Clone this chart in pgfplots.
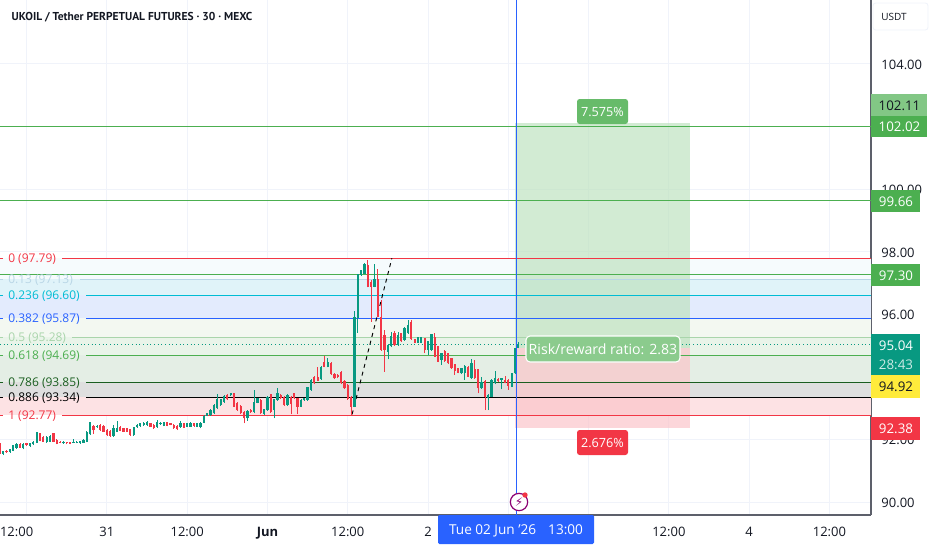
\documentclass[border=0pt]{standalone}
\usepackage{fontspec}
\usepackage{pgfplots}
\usepackage{pgfplotstable}
\pgfplotsset{compat=1.18}
\setmainfont{Open Sans}
\newfontfamily\dv{DejaVu Sans}
\newfontfamily\ttl{PT Sans}
\definecolor{upc}{HTML}{089981}
\definecolor{dnc}{HTML}{F23645}
\definecolor{gridc}{HTML}{F0F3FA}
\definecolor{frame}{HTML}{5D606B}
\definecolor{lvlA}{HTML}{F23645}
\definecolor{lvlB}{HTML}{B9D6E6}
\definecolor{lvlC}{HTML}{00BCD4}
\definecolor{lvlD}{HTML}{2962FF}
\definecolor{lvlE}{HTML}{A9D5AB}
\definecolor{lvlF}{HTML}{4CAF50}
\definecolor{lvlG}{HTML}{1B5E20}
\definecolor{lvlH}{HTML}{000000}
\definecolor{ogreen}{HTML}{4CAF50}
\definecolor{bluetag}{HTML}{2962FF}
\definecolor{ytag}{HTML}{FFEB3B}
\definecolor{ink}{HTML}{131722}
\definecolor{bandA}{HTML}{F6FBFD}
\definecolor{bandB}{HTML}{E0F3F9}
\definecolor{bandC}{HTML}{E3EBFD}
\definecolor{bandD}{HTML}{F3F8F1}
\definecolor{bandE}{HTML}{E9F4E9}
\definecolor{bandF}{HTML}{E4EEE5}
\definecolor{bandG}{HTML}{DFDFDF}
\definecolor{bandH}{HTML}{FDE2E4}
\pgfplotstableread{
i bot top low high
1 91.54 91.62 91.50 91.64
3 91.60 91.68 91.58 91.70
4 91.64 91.81 91.62 91.83
5 91.72 91.84 91.70 91.88
7 91.72 91.86 91.68 91.88
9 91.79 91.88 91.77 91.90
10 91.84 91.93 91.82 91.95
11 91.90 92.23 91.88 92.25
14 91.92 92.09 91.90 92.12
15 91.93 92.12 91.91 92.15
19 91.88 91.92 91.86 91.94
22 91.90 91.93 91.88 92.00
23 91.89 91.92 91.87 91.94
24 91.88 91.94 91.86 91.96
25 91.90 91.98 91.88 92.00
26 91.93 92.25 91.91 92.27
27 92.16 92.55 92.14 92.57
29 92.39 92.43 92.37 92.45
34 92.11 92.36 92.09 92.45
35 92.25 92.36 92.23 92.60
40 92.14 92.39 92.12 92.41
41 92.39 92.46 92.37 92.48
42 92.43 92.52 92.41 92.54
43 92.46 92.54 92.44 92.56
44 92.46 92.57 92.44 92.59
47 92.39 92.57 92.37 92.62
48 92.49 92.54 92.47 92.56
49 92.44 92.55 92.42 92.57
54 92.39 92.52 92.37 92.60
56 92.41 92.52 92.39 92.54
57 92.41 92.54 92.39 92.56
59 92.41 92.52 92.39 92.54
60 92.41 92.53 92.35 92.55
61 92.53 92.76 92.51 92.78
62 92.76 92.83 92.74 92.85
63 92.78 92.94 92.76 92.96
64 92.83 93.10 92.81 93.12
65 92.99 93.28 92.97 93.45
66 93.10 93.28 93.08 93.30
67 93.20 93.40 93.18 93.42
69 93.41 93.47 93.39 93.49
74 92.67 92.92 92.60 92.94
76 92.88 93.20 92.83 93.58
77 93.17 93.31 93.15 93.33
79 92.81 92.96 92.79 92.98
80 92.94 93.36 92.92 93.38
82 92.94 93.28 92.67 93.30
83 93.26 93.47 93.24 93.63
86 93.10 93.42 93.08 93.44
90 93.05 93.26 93.03 93.28
91 93.26 93.31 93.24 93.33
92 93.26 93.66 93.24 93.68
93 93.58 93.90 93.56 93.92
96 93.92 94.32 93.90 94.34
98 94.32 94.48 94.30 94.59
106 93.05 95.92 93.03 96.11
107 95.87 97.28 95.41 97.30
108 97.25 97.41 97.23 97.43
109 97.30 97.62 97.28 97.65
112 96.88 97.14 96.86 97.60
116 94.81 95.02 94.56 95.04
117 94.97 95.31 94.95 95.42
119 95.02 95.34 95.00 95.44
121 95.18 95.55 95.16 95.60
122 95.39 95.66 95.37 95.82
125 95.09 95.26 95.07 95.28
126 95.09 95.26 95.07 95.28
128 94.86 95.13 94.70 95.15
129 94.86 95.36 94.84 95.38
132 94.54 94.75 94.38 94.77
138 94.11 94.27 94.09 94.29
139 94.13 94.35 93.90 94.37
141 93.95 94.43 93.93 94.57
144 93.63 93.85 93.61 94.00
146 93.31 93.42 92.94 93.44
147 93.37 93.90 93.35 93.92
148 93.79 93.95 93.77 94.20
150 93.90 93.95 93.60 93.97
153 93.69 94.11 93.67 94.13
154 94.11 94.91 94.09 94.93
155 94.93 95.04 94.91 95.10
}\upbars
\pgfplotstableread{
i bot top low high
0 91.54 91.87 91.34 91.90
2 91.59 91.63 91.57 91.65
6 91.74 91.86 91.72 91.88
8 91.82 91.87 91.80 91.89
12 91.96 92.20 91.94 92.22
13 91.93 92.09 91.91 92.11
16 91.93 92.20 91.91 92.22
17 91.86 91.98 91.84 92.00
18 91.89 91.93 91.87 91.95
20 91.88 91.91 91.84 91.93
21 91.86 91.91 91.84 91.93
28 92.30 92.43 92.17 92.45
30 92.30 92.46 92.28 92.48
31 92.25 92.44 92.23 92.46
32 92.14 92.30 92.12 92.32
33 92.11 92.28 92.09 92.30
36 92.28 92.41 92.26 92.43
37 92.25 92.36 92.23 92.38
38 92.25 92.36 92.23 92.38
39 92.14 92.32 92.12 92.34
45 92.41 92.52 92.39 92.54
46 92.36 92.46 92.34 92.48
50 92.44 92.55 92.42 92.57
51 92.47 92.52 92.45 92.54
52 92.36 92.46 92.34 92.48
53 92.32 92.44 92.30 92.46
55 92.38 92.52 92.36 92.54
58 92.43 92.52 92.41 92.54
68 93.28 93.42 93.26 93.44
70 93.05 93.47 93.03 93.49
71 92.94 93.17 92.92 93.19
72 92.83 93.07 92.81 93.09
73 92.67 92.88 92.51 92.90
75 92.88 92.94 92.86 92.96
78 92.83 93.26 92.81 93.28
81 92.88 93.44 92.86 93.46
84 93.31 93.42 93.29 93.44
85 93.10 93.36 93.08 93.38
87 93.13 93.36 92.81 93.38
88 93.31 93.47 93.29 93.49
89 93.05 93.31 92.81 93.33
94 93.79 94.00 93.77 94.02
95 93.88 94.00 93.86 94.30
97 94.32 94.48 94.30 94.66
99 94.09 94.45 94.07 94.47
100 93.95 94.09 93.93 94.11
101 93.98 94.06 93.96 94.08
102 93.79 94.16 93.77 94.18
103 93.63 93.88 93.61 93.90
104 93.29 93.74 93.27 93.76
105 93.05 93.36 92.78 93.38
110 96.88 97.57 96.86 97.73
111 96.88 97.04 95.76 97.10
113 95.92 97.14 95.90 97.46
114 94.86 95.92 94.84 96.45
115 94.86 95.33 94.16 95.50
118 95.02 95.39 95.00 95.45
120 95.13 95.39 95.11 95.41
123 95.20 95.76 95.18 95.82
124 95.09 95.20 95.07 95.22
127 94.86 95.23 94.75 95.25
130 94.65 95.28 94.63 95.39
131 94.49 94.97 94.47 94.99
133 94.51 94.84 94.49 94.86
134 94.43 94.75 94.41 94.77
135 94.27 94.59 94.25 94.61
136 94.20 94.40 94.06 94.42
137 94.13 94.27 94.11 94.29
140 94.01 94.33 93.99 94.35
142 93.95 94.25 93.93 94.54
143 93.63 94.24 93.47 94.26
145 93.37 93.87 92.94 93.89
149 93.87 93.93 93.85 93.95
151 93.81 93.90 93.79 94.03
152 93.71 93.90 93.58 93.92
}\downbars
\newcommand{\band}[3]{\addplot[draw=none,fill=#3,forget plot] coordinates {(0.04,#1)(260.43,#1)(260.43,#2)(0.04,#2)} --cycle;}
\newcommand{\lvl}[3]{%
  \addplot[color=#3,line width=.75pt,forget plot] coordinates {(0.04,#1)(0.94,#1)};
  \addplot[color=#3,line width=.75pt,forget plot] coordinates {(#2,#1)(260.43,#1)};}
\begin{document}
\begin{tikzpicture}
\useasboundingbox (0,0) rectangle (699pt,412.5pt);
\begin{axis}[
  at={(0pt,26.25pt)},anchor=south west,
  scale only axis,width=653.25pt,height=386.25pt,
  xmin=0.04,xmax=260.43,ymin=89.585,ymax=106.043,
  axis x line=bottom,axis y line=right,
  axis line style={-,draw=frame,line width=.9pt},
  major tick length=0pt,
  xtick={8,32,56,80,104,128,152,176,200,224,248},
  xticklabels={\hspace*{-15pt}12:00,31,12:00,\textbf{Jun},12:00,2,,,12:00,4,12:00},
  ytick={90,92,94,96,98,100,102,104},
  yticklabels={90.00,92.00,,96.00,98.00,100.00,,104.00},
  yticklabel pos=right,
  grid=major,grid style={gridc,line width=.7pt},
  yticklabel style={font=\fontsize{9.75}{11}\selectfont,text=ink,anchor=west,xshift=4.3pt,yshift=-.6pt},
  xticklabel style={font=\fontsize{9.75}{11}\selectfont,text=ink,yshift=-5.5pt},
]
% Fibonacci bands
\band{97.79}{97.13}{bandA}
\band{97.13}{96.60}{bandB}
\band{96.60}{95.87}{bandC}
\band{95.87}{95.28}{bandD}
\band{95.28}{94.69}{bandE}
\band{94.69}{93.85}{bandF}
\band{93.85}{93.34}{bandG}
\band{93.34}{92.77}{bandH}
% long position box
\addplot[draw=none,fill=white,fill opacity=.6,forget plot] coordinates {(154,102.11)(206.3,102.11)(206.3,92.38)(154,92.38)} --cycle;
\addplot[draw=none,fill=ogreen,fill opacity=.25,forget plot] coordinates {(154,102.11)(206.3,102.11)(206.3,94.92)(154,94.92)} --cycle;
\addplot[draw=none,fill=dnc,fill opacity=.2,forget plot] coordinates {(154,94.92)(206.3,94.92)(206.3,92.38)(154,92.38)} --cycle;
% horizontal rays
\addplot[color=lvlF,line width=.75pt,forget plot] coordinates {(0.04,102.00)(260.43,102.00)};
\addplot[color=lvlF,line width=.75pt,forget plot] coordinates {(0.04,99.635)(260.43,99.635)};
\addplot[color=lvlF,line width=.75pt,forget plot] coordinates {(0.04,97.27)(260.43,97.27)};
% fib levels
\lvl{97.78}{18.6}{lvlA}
\lvl{97.11}{24}{lvlB}
\lvl{96.60}{25.75}{lvlC}
\lvl{95.86}{25.75}{lvlD}
\lvl{95.26}{21.6}{lvlE}
\lvl{94.68}{25.75}{lvlF}
\lvl{93.82}{25.75}{lvlG}
\lvl{93.34}{25.75}{lvlH}
\lvl{92.76}{18.6}{lvlA}
\addplot[color=upc,line width=.75pt,dotted,forget plot] coordinates {(0.04,95.03)(260.43,95.03)};
% trend line
\addplot[black,line width=.7pt,dashed,forget plot] coordinates {(105.3,92.80)(117.2,97.79)};
% crosshair
\addplot[color=lvlD,line width=.75pt,forget plot] coordinates {(154.3,89.585)(154.3,106.043)};
% candles
\addplot[draw=none,no marks,forget plot,error bars/.cd,y dir=plus,y explicit,error mark=none,error bar style={draw=upc,line width=.55pt}]
  table[x=i,y=low,y error expr=\thisrow{high}-\thisrow{low}] {\upbars};
\addplot[draw=none,no marks,forget plot,error bars/.cd,y dir=plus,y explicit,error mark=none,error bar style={draw=dnc,line width=.55pt}]
  table[x=i,y=low,y error expr=\thisrow{high}-\thisrow{low}] {\downbars};
\addplot[draw=none,no marks,forget plot,error bars/.cd,y dir=plus,y explicit,error mark=none,error bar style={draw=upc,line width=1.7pt}]
  table[x=i,y=bot,y error expr=\thisrow{top}-\thisrow{bot}] {\upbars};
\addplot[draw=none,no marks,forget plot,error bars/.cd,y dir=plus,y explicit,error mark=none,error bar style={draw=dnc,line width=1.7pt}]
  table[x=i,y=bot,y error expr=\thisrow{top}-\thisrow{bot}] {\downbars};
\end{axis}
\begin{axis}[
  at={(0pt,26.25pt)},anchor=south west,
  scale only axis,width=653.25pt,height=386.25pt,
  xmin=0,xmax=871,ymin=0,ymax=515,y dir=reverse,
  axis lines=none,clip=false,
]
\newcommand{\tagbox}[6]{%
  \fill[#5] (871,#1) rectangle (#2,#3);
  \node[font=\fontsize{10}{11}\selectfont,text=#6] at ({(871+#2)/2+.5},{(#1+#3)/2+.7}) {#4};}
% title
\node[anchor=west,font=\ttl\fontsize{8.6}{11}\selectfont\bfseries,text=ink] at (7,17) {UKOIL / Tether PERPETUAL FUTURES · 30 · MEXC};
% USDT box
\draw[gridc,line width=.7pt,fill=white,rounded corners=2pt] (873,3) rectangle (928,30);
\node[font=\fontsize{7.5}{9}\selectfont,text=ink] at (894,17) {USDT};
% right tags
\tagbox{94}{927}{116}{102.11}{ogreen!70!white}{ink}
\tagbox{116}{927}{137}{102.02}{ogreen}{white}
\tagbox{190}{920}{212}{99.66}{ogreen}{white}
\tagbox{264}{920}{286}{97.30}{ogreen}{white}
\fill[upc] (871,334) rectangle (920,375);
\node[font=\fontsize{10}{11}\selectfont,text=white] at (896,346) {95.04};
\node[font=\fontsize{10}{11}\selectfont,text=white,opacity=.8] at (896,365) {28:43};
\tagbox{375}{920}{398}{94.92}{ytag}{ink}
\tagbox{417}{920}{440}{92.38}{dnc}{white}
% fib labels
\begingroup
\newcommand{\fib}[3]{\node[anchor=west,inner sep=0pt,font=\fontsize{9}{11}\selectfont,text=#3] at (8,#1) {#2};}
\fib{259.5}{0 (97.79)}{lvlA}
\fib{280}{0.13 (97.13)}{lvlB}
\fib{296.5}{0.236 (96.60)}{lvlC}
\fib{319.5}{0.382 (95.87)}{lvlD}
\fib{338}{0.5 (95.28)}{lvlE}
\fib{356.5}{0.618 (94.69)}{lvlF}
\fib{383}{0.786 (93.85)}{lvlG}
\fib{398.5}{0.886 (93.34)}{lvlH}
\fib{416.5}{1 (92.77)}{lvlA}
\endgroup
% position labels
\fill[ogreen!85!white,rounded corners=2pt] (577,99) rectangle (628,124);
\node[font=\fontsize{9.5}{11}\selectfont,text=white] at (602.5,112) {7.575\%};
\fill[dnc,rounded corners=2pt] (577,430) rectangle (628,455);
\node[font=\fontsize{9.5}{11}\selectfont,text=white] at (602.5,443) {2.676\%};
\draw[white,line width=.8pt,fill=ogreen!65!white,rounded corners=3pt] (526,336) rectangle (680,362);
\node[font=\fontsize{10.6}{12}\selectfont,text=white] at (603,349.5) {Risk/reward ratio: 2.83};
% date tag
\fill[bluetag,rounded corners=1pt] (438,515) rectangle (594,544);
\node[font=\fontsize{10.2}{11}\selectfont,text=white] at (516,531) {Tue 02 Jun '26\hspace{9pt}13:00};
% event icon
\node[circle,draw=violet!80!purple,line width=.9pt,fill=white,inner sep=0pt,minimum size=13pt,text=violet!80!purple,font=\dv\fontsize{9}{10}\selectfont] at (519,502) {⚡};
\fill[dnc] (525,495) circle (2pt);
\end{axis}
\end{tikzpicture}
\end{document}
